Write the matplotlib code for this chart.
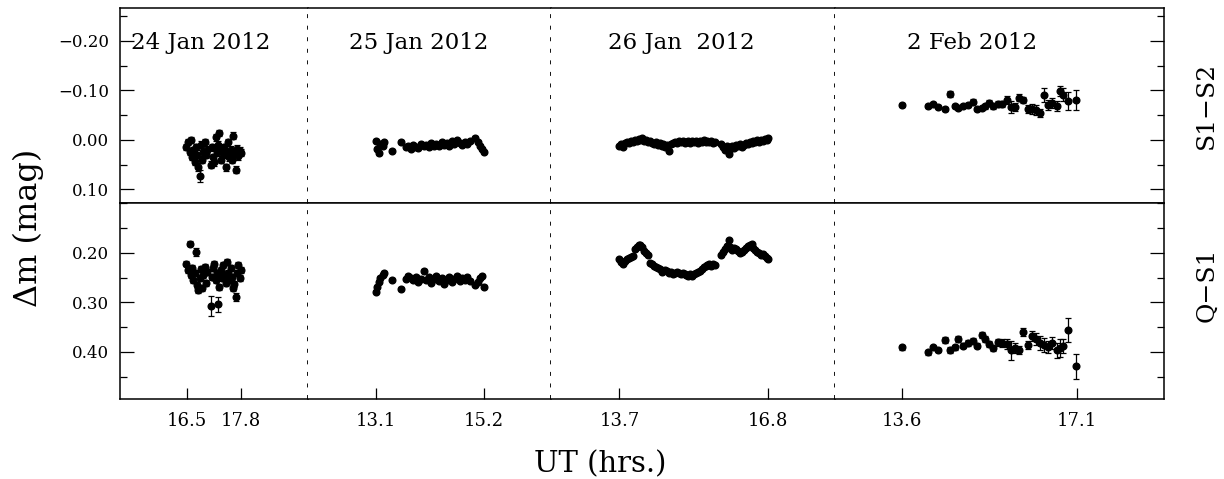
# Differential light curves, four nights, two panels (S1-S2 on top, Q-S1 below)

import matplotlib.pyplot as plt
from matplotlib.ticker import MultipleLocator, FixedLocator

plt.rcParams['font.family'] = ['DejaVu Serif']

# ---- data (UT hours, magnitudes) ----
night_labels = ['24 Jan 2012', '25 Jan 2012', '26 Jan  2012', '2 Feb 2012']
xtick_vals = [[16.5, 17.8], [13.1, 15.2], [13.7, 16.8], [13.6, 17.1]]
xtick_labels = [['16.5', '17.8'], ['13.1', '15.2'], ['13.7', '16.8'], ['13.6', '17.1']]
xlims = [(14.886, 19.44), (11.777, 16.511), (12.282, 18.203), (12.269, 18.843)]

# 24 Jan
t1 = [16.48, 16.53, 16.57, 16.60, 16.63, 16.66, 16.69, 16.72, 16.75, 16.78, 16.81,
      16.84, 16.87, 16.90, 16.93, 16.96, 16.99, 17.08, 17.11, 17.14, 17.17, 17.20,
      17.23, 17.26, 17.29, 17.32, 17.35, 17.38, 17.41, 17.44, 17.47, 17.50, 17.53,
      17.56, 17.59, 17.62, 17.65, 17.68, 17.71, 17.74, 17.78, 17.82]
s12_1 = [0.014, 0.005, 0.025, 0.000, 0.035, 0.020, 0.045, 0.015, 0.030, 0.055, 0.072,
         0.010, 0.040, 0.025, 0.005, 0.030, 0.020, 0.050, 0.015, 0.035, 0.045, -0.005,
         0.025, 0.010, -0.014, 0.040, 0.020, 0.030, 0.015, 0.055, 0.025, 0.005, 0.035,
         0.020, 0.040, -0.008, 0.028, 0.060, 0.018, 0.033, 0.022, 0.026]
s12_1_err = [0.006] * 8 + [0.010, 0.008, 0.012] + [0.007] * 31
q1_1 = [0.222, 0.235, 0.182, 0.245, 0.230, 0.255, 0.240, 0.198, 0.265, 0.275, 0.250,
        0.232, 0.270, 0.245, 0.228, 0.260, 0.238, 0.307, 0.248, 0.230, 0.222, 0.255,
        0.240, 0.304, 0.268, 0.235, 0.250, 0.225, 0.245, 0.260, 0.218, 0.240, 0.255,
        0.230, 0.248, 0.270, 0.262, 0.290, 0.240, 0.225, 0.250, 0.235]
q1_1_err = [0.005] * 7 + [0.008] + [0.006] * 9 + [0.020] + [0.006] * 5 + [0.015] + [0.006] * 13 + [0.008] + [0.006] * 4

# 25 Jan
t2 = [13.10, 13.12, 13.15, 13.18, 13.22, 13.25, 13.41, 13.57, 13.67, 13.72, 13.77,
      13.82, 13.87, 13.92, 13.97, 14.02, 14.07, 14.12, 14.17, 14.22, 14.27, 14.32,
      14.37, 14.42, 14.47, 14.52, 14.57, 14.62, 14.67, 14.72, 14.77, 14.82, 14.87,
      14.93, 15.03, 15.08, 15.12, 15.16, 15.20]
s12_2 = [0.002, 0.018, 0.027, 0.008, 0.012, 0.005, 0.022, 0.004, 0.015, 0.012, 0.018,
         0.010, 0.014, 0.016, 0.008, 0.012, 0.010, 0.015, 0.006, 0.012, 0.009, 0.013,
         0.004, 0.010, 0.007, 0.012, 0.003, 0.008, 0.001, 0.006, 0.010, 0.004, 0.008,
         0.003, -0.004, 0.005, 0.012, 0.018, 0.024]
q1_2 = [0.278, 0.268, 0.258, 0.250, 0.244, 0.240, 0.254, 0.272, 0.252, 0.246, 0.250,
        0.255, 0.248, 0.258, 0.252, 0.236, 0.255, 0.249, 0.260, 0.252, 0.246, 0.257,
        0.250, 0.262, 0.254, 0.248, 0.258, 0.252, 0.246, 0.256, 0.250, 0.254, 0.248,
        0.256, 0.264, 0.258, 0.250, 0.246, 0.268]

# 26 Jan
t3 = [13.70, 13.74, 13.78, 13.82, 13.86, 13.90, 13.94, 13.98, 14.02, 14.06, 14.10,
      14.14, 14.18, 14.22, 14.26, 14.30, 14.34, 14.38, 14.42, 14.46, 14.50, 14.54,
      14.58, 14.62, 14.66, 14.70, 14.74, 14.78, 14.82, 14.86, 14.90, 14.94, 14.98,
      15.02, 15.06, 15.10, 15.14, 15.18, 15.22, 15.26, 15.30, 15.34, 15.38, 15.42,
      15.46, 15.50, 15.54, 15.58, 15.62, 15.66, 15.70, 15.82, 15.86, 15.90, 15.94,
      15.98, 16.02, 16.06, 16.10, 16.14, 16.18, 16.22, 16.26, 16.30, 16.34, 16.38,
      16.42, 16.46, 16.50, 16.54, 16.58, 16.62, 16.66, 16.70, 16.74, 16.78, 16.80]
s12_3 = [0.012, 0.008, 0.014, 0.006, 0.004, 0.007, 0.002, 0.004, 0.000, 0.003, -0.002,
         0.001, -0.004, 0.002, 0.000, 0.004, 0.003, 0.006, 0.008, 0.005, 0.010, 0.007,
         0.012, 0.009, 0.014, 0.010, 0.022, 0.008, 0.006, 0.004, 0.006, 0.003, 0.005,
         0.002, 0.006, 0.004, 0.003, 0.006, 0.002, 0.005, 0.003, 0.006, 0.002, 0.004,
         0.001, 0.005, 0.003, 0.004, 0.002, 0.006, 0.004, 0.008, 0.014, 0.020, 0.012,
         0.028, 0.018, 0.012, 0.016, 0.010, 0.012, 0.008, 0.014, 0.010, 0.006, 0.009,
         0.004, 0.007, 0.002, 0.005, 0.001, 0.004, 0.000, 0.002, -0.002, 0.000, -0.004]
q1_3 = [0.212, 0.218, 0.222, 0.216, 0.213, 0.210, 0.208, 0.206, 0.192, 0.188, 0.185,
        0.184, 0.188, 0.196, 0.200, 0.204, 0.220, 0.222, 0.226, 0.228, 0.230, 0.233,
        0.238, 0.236, 0.234, 0.237, 0.240, 0.238, 0.242, 0.240, 0.238, 0.241, 0.243,
        0.240, 0.242, 0.244, 0.246, 0.243, 0.247, 0.242, 0.240, 0.238, 0.236, 0.232,
        0.228, 0.226, 0.224, 0.222, 0.226, 0.223, 0.225, 0.204, 0.198, 0.192, 0.186,
        0.175, 0.188, 0.194, 0.190, 0.192, 0.196, 0.200, 0.198, 0.194, 0.190, 0.186,
        0.184, 0.182, 0.190, 0.194, 0.198, 0.200, 0.204, 0.203, 0.206, 0.210, 0.212]

# 2 Feb
t4 = [13.60, 14.12, 14.22, 14.32, 14.46, 14.57, 14.66, 14.73, 14.83, 14.93, 15.02,
      15.10, 15.20, 15.27, 15.34, 15.42, 15.52, 15.60, 15.70, 15.79, 15.86, 15.94,
      16.02, 16.12, 16.20, 16.28, 16.36, 16.44, 16.52, 16.61, 16.70, 16.76, 16.83,
      16.92, 17.08]
s12_4 = [-0.071, -0.069, -0.073, -0.067, -0.063, -0.093, -0.069, -0.065, -0.068, -0.071,
         -0.077, -0.063, -0.065, -0.068, -0.075, -0.068, -0.073, -0.072, -0.081, -0.067,
         -0.067, -0.085, -0.080, -0.063, -0.062, -0.061, -0.055, -0.091, -0.071, -0.074,
         -0.069, -0.099, -0.091, -0.079, -0.081]
s12_4_err = [0.004, 0.004, 0.003, 0.003, 0.004, 0.006, 0.004, 0.004, 0.004, 0.004,
             0.005, 0.004, 0.004, 0.005, 0.005, 0.005, 0.006, 0.006, 0.008, 0.012,
             0.008, 0.007, 0.006, 0.008, 0.010, 0.010, 0.008, 0.014, 0.010, 0.010,
             0.010, 0.010, 0.013, 0.018, 0.020]
q1_4 = [0.391, 0.401, 0.391, 0.397, 0.375, 0.397, 0.391, 0.373, 0.387, 0.382, 0.377,
        0.387, 0.365, 0.374, 0.384, 0.393, 0.380, 0.382, 0.384, 0.397, 0.392, 0.397,
        0.360, 0.386, 0.368, 0.374, 0.382, 0.386, 0.390, 0.382, 0.397, 0.392, 0.388,
        0.356, 0.429]
q1_4_err = [0.005, 0.005, 0.004, 0.004, 0.006, 0.006, 0.005, 0.006, 0.006, 0.006,
            0.005, 0.006, 0.006, 0.006, 0.006, 0.006, 0.007, 0.008, 0.010, 0.020,
            0.010, 0.008, 0.008, 0.008, 0.010, 0.012, 0.014, 0.014, 0.012, 0.012,
            0.016, 0.018, 0.014, 0.024, 0.025]

times = [t1, t2, t3, t4]
top_vals = [s12_1, s12_2, s12_3, s12_4]
top_errs = [s12_1_err, [0.003] * len(t2), [0.002] * len(t3), s12_4_err]
bot_vals = [q1_1, q1_2, q1_3, q1_4]
bot_errs = [q1_1_err, [0.003] * len(t2), [0.002] * len(t3), q1_4_err]

top_yticks = [-0.20, -0.10, 0.00, 0.10]
top_ylabels = ['\u22120.20', '\u22120.10', '0.00', '0.10']
bot_yticks = [0.20, 0.30, 0.40]
bot_ylabels = ['0.20', '0.30', '0.40']

# where each night's date label sits (axes fraction, centre)
label_xpos = [0.43, 0.455, 0.457, 0.416]

# ---- figure ----
fig = plt.figure(figsize=(12.24, 4.79), dpi=100)
gs = fig.add_gridspec(2, 4, width_ratios=[188.5, 243, 283.5, 329],
                      left=0.098, right=0.951, top=0.984, bottom=0.167,
                      wspace=0, hspace=0)

frame_lw = 1.1

for row in range(2):
    for col in range(4):
        ax = fig.add_subplot(gs[row, col])
        if row == 0:
            vals, errs = top_vals[col], top_errs[col]
            ax.set_ylim(0.128, -0.267)
        else:
            vals, errs = bot_vals[col], bot_errs[col]
            ax.set_ylim(0.495, 0.10)
        ax.errorbar(times[col], vals, yerr=errs, fmt='o', color='black', ms=4.8,
                    elinewidth=0.9, capsize=2.5, capthick=0.9)
        ax.set_xlim(*xlims[col])

        for side in ['top', 'bottom', 'left', 'right']:
            ax.spines[side].set_linewidth(frame_lw)
        if col > 0:
            ax.spines['left'].set_visible(False)
        if col < 3:
            # night separator: dotted line on the right edge of the panel
            ax.spines['right'].set_visible(False)
            ax.plot([1, 1], [0, 1], transform=ax.transAxes, color='black', lw=1.3,
                    linestyle=(0, (2.2, 4.2)), clip_on=False, zorder=5)

        # y ticks only on the outer edges
        ax.yaxis.set_minor_locator(MultipleLocator(0.05))
        if row == 0:
            ax.set_yticks(top_yticks)
            ax.set_yticklabels(top_ylabels)
        else:
            ax.set_yticks(bot_yticks)
            ax.set_yticklabels(bot_ylabels)
        ax.tick_params(axis='y', which='both', direction='in',
                       left=(col == 0), right=(col == 3),
                       labelleft=(col == 0), labelright=False)
        ax.tick_params(axis='y', which='major', length=10, width=0.9, labelsize=12, pad=8)
        ax.tick_params(axis='y', which='minor', length=5, width=0.9)

        if row == 1:
            ax.set_xticks(xtick_vals[col])
            ax.set_xticklabels(xtick_labels[col])
            ax.tick_params(axis='x', which='major', direction='in', length=8, width=0.9,
                           labelsize=13, pad=9, top=False)
        else:
            ax.set_xticks([])
            ax.text(label_xpos[col], 0.82, night_labels[col], transform=ax.transAxes,
                    ha='center', va='center', fontsize=16.5)
        ax.xaxis.set_minor_locator(FixedLocator([]))

fig.text(0.023, 0.525, '\u0394m (mag)', rotation=90, ha='center', va='center', fontsize=23)
fig.text(0.490, 0.030, 'UT (hrs.)', ha='center', va='center', fontsize=21)
fig.text(0.986, 0.78, 'S1\u2212S2', rotation=90, ha='center', va='center', fontsize=18)
fig.text(0.986, 0.405, 'Q\u2212S1', rotation=90, ha='center', va='center', fontsize=18)

fig.savefig('out.png', dpi=100)
